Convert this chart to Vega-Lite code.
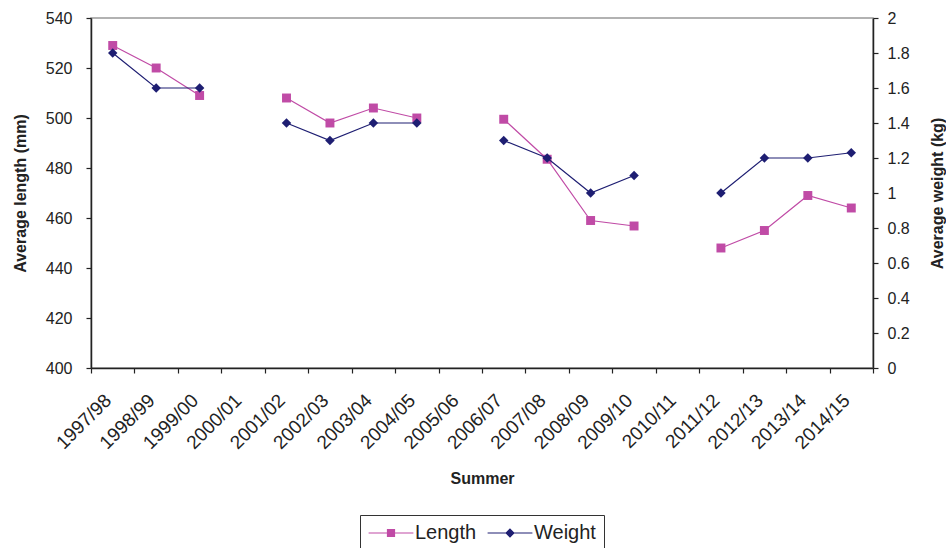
{
  "$schema": "https://vega.github.io/schema/vega-lite/v6.json",
  "width": 782,
  "height": 350,
  "autosize": {"type": "none"},
  "padding": {"left": 91, "top": 18, "right": 73, "bottom": 180},
  "background": "white",
  "config": {
    "font": "Liberation Sans",
    "view": {"stroke": "#999999", "strokeWidth": 1.5},
    "mark": {"invalid": "break-paths-show-domains"},
    "axis": {
      "labelFont": "Liberation Sans",
      "labelFontSize": 16,
      "labelColor": "#222222",
      "titleFont": "Liberation Sans",
      "titleFontSize": 16,
      "titleFontWeight": "bold",
      "titleColor": "#222222",
      "domainColor": "#222222",
      "domainWidth": 1.5,
      "tickColor": "#222222",
      "tickWidth": 1.2,
      "tickSize": 5,
      "grid": false
    }
  },
  "data": {
    "values": [
      {"season": "1997/98", "length": 529, "weight": 1.8},
      {"season": "1998/99", "length": 520, "weight": 1.6},
      {"season": "1999/00", "length": 509, "weight": 1.6},
      {"season": "2000/01", "length": null, "weight": null},
      {"season": "2001/02", "length": 508, "weight": 1.4},
      {"season": "2002/03", "length": 498, "weight": 1.3},
      {"season": "2003/04", "length": 504, "weight": 1.4},
      {"season": "2004/05", "length": 500, "weight": 1.4},
      {"season": "2005/06", "length": null, "weight": null},
      {"season": "2006/07", "length": 499.5, "weight": 1.3},
      {"season": "2007/08", "length": 483.5, "weight": 1.2},
      {"season": "2008/09", "length": 459, "weight": 1.0},
      {"season": "2009/10", "length": 456.8, "weight": 1.1},
      {"season": "2010/11", "length": null, "weight": null},
      {"season": "2011/12", "length": 448, "weight": 1.0},
      {"season": "2012/13", "length": 455, "weight": 1.2},
      {"season": "2013/14", "length": 469, "weight": 1.2},
      {"season": "2014/15", "length": 464, "weight": 1.23}
    ]
  },
  "encoding": {
    "x": {
      "field": "season",
      "type": "ordinal",
      "bandPosition": 0.5,
      "sort": null,
      "scale": {
        "type": "band",
        "paddingInner": 0,
        "paddingOuter": 0,
        "domain": ["1997/98","1998/99","1999/00","2000/01","2001/02","2002/03","2003/04","2004/05","2005/06","2006/07","2007/08","2008/09","2009/10","2010/11","2011/12","2012/13","2013/14","2014/15"]
      },
      "axis": {
        "title": "Summer",
        "labelFont": "Liberation Sans Narrow, Liberation Sans",
        "labelAngle": -45,
        "labelAlign": "right",
        "labelBaseline": "middle",
        "labelFontSize": 19,
        "labelPadding": 24,
        "labelOffset": -5,
        "titlePadding": 18,
        "tickBand": "extent",
        "encode": {"ticks": {"update": {"y": {"value": -2}}}}
      }
    },
    "color": {
      "datum": "Length",
      "type": "nominal",
      "scale": {"domain": ["Length", "Weight"], "range": ["#C04BA6", "#1E1E72"]},
      "legend": {
        "title": null,
        "orient": "none",
        "direction": "horizontal",
        "legendX": 269,
        "legendY": 497,
        "strokeColor": "#333333",
        "padding": 8,
        "labelFont": "Liberation Sans",
        "labelFontSize": 20,
        "labelColor": "#222222",
        "labelOffset": 14,
        "symbolOffset": 13,
        "columnPadding": 8,
        "symbolSize": 196,
        "encode": {
          "symbols": {
            "update": {
              "shape": [
                {"test": "datum.value === 'Length'", "value": "M-3.2,0H3.2M-0.5,-0.5H0.5V0.5H-0.5Z"},
                {"value": "M-3.2,0H3.2M0,-0.55L0.55,0L0,0.55L-0.55,0Z"}
              ],
              "fill": [
                {"test": "datum.value === 'Length'", "value": "#C04BA6"},
                {"value": "#1E1E72"}
              ],
              "stroke": [
                {"test": "datum.value === 'Length'", "value": "#C04BA6"},
                {"value": "#1E1E72"}
              ],
              "strokeWidth": {"value": 1.2},
              "opacity": {"value": 1}
            }
          }
        }
      }
    }
  },
  "layer": [
    {
      "encoding": {
        "y": {
          "field": "length",
          "type": "quantitative",
          "scale": {"domain": [400, 540], "nice": false, "zero": false},
          "axis": {
            "title": "Average length (mm)",
            "orient": "left",
            "values": [400, 420, 440, 460, 480, 500, 520, 540],
            "labelPadding": 14,
            "titlePadding": 17,
            "encode": {"ticks": {"update": {"x": {"value": 5}}}}
          }
        }
      },
      "layer": [
        {"mark": {"type": "line", "strokeWidth": 1.2, "color": "#D060B8"}, "encoding": {"color": {"datum": "Length", "type": "nominal"}}},
        {"mark": {"type": "point", "shape": "square", "filled": true, "size": 80, "opacity": 1}, "encoding": {"color": {"datum": "Length", "type": "nominal"}}}
      ]
    },
    {
      "encoding": {
        "y": {
          "field": "weight",
          "type": "quantitative",
          "scale": {"domain": [0, 2], "nice": false},
          "axis": {
            "title": "Average weight (kg)",
            "orient": "right",
            "values": [0, 0.2, 0.4, 0.6, 0.8, 1, 1.2, 1.4, 1.6, 1.8, 2],
            "format": "~g",
            "labelPadding": 9,
            "titlePadding": 36,
            "titleAngle": 270,
            "encode": {"ticks": {"update": {"x": {"value": -5}}}}
          }
        }
      },
      "layer": [
        {"mark": {"type": "line", "strokeWidth": 1.2}, "encoding": {"color": {"datum": "Weight", "type": "nominal"}}},
        {"mark": {"type": "point", "shape": "diamond", "filled": true, "size": 90, "opacity": 1}, "encoding": {"color": {"datum": "Weight", "type": "nominal"}}}
      ]
    }
  ],
  "resolve": {"scale": {"y": "independent"}}
}
